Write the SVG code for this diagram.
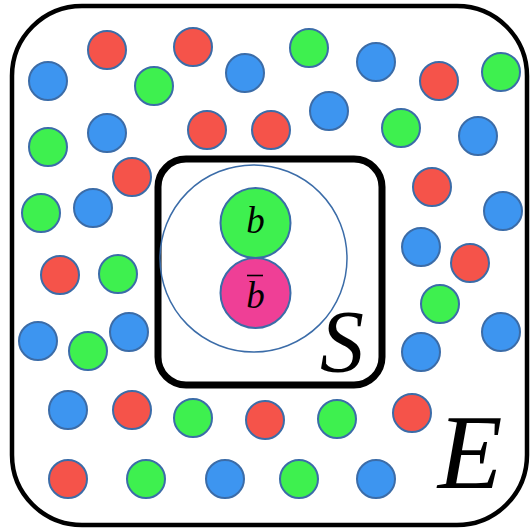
<svg xmlns="http://www.w3.org/2000/svg" width="532" height="530" viewBox="0 0 532 530">
<style>
.p{stroke:#3b6ca8;stroke-width:2}
.r{fill:#f5534a}
.g{fill:#3ef04f}
.b{fill:#3d95f0}
.lbl{font-family:"Liberation Serif","Times New Roman",serif;font-style:italic;fill:#000;text-anchor:middle}
</style>
<rect width="532" height="530" fill="#fff"/>
<g id="environment">
<rect x="12" y="6" width="515" height="519" rx="70" ry="70" fill="none" stroke="#000" stroke-width="4.5"/>
<text class="lbl" x="470" y="488" font-size="106">E</text>
</g>
<g id="particles">
<circle class="p b" cx="48" cy="81" r="19"/>
<circle class="p r" cx="107" cy="50" r="19"/>
<circle class="p r" cx="193" cy="47" r="19"/>
<circle class="p g" cx="154" cy="86" r="19"/>
<circle class="p b" cx="245" cy="73" r="19"/>
<circle class="p g" cx="309" cy="48" r="19"/>
<circle class="p b" cx="376" cy="62" r="19"/>
<circle class="p r" cx="439" cy="81" r="19"/>
<circle class="p g" cx="501" cy="72" r="19"/>
<circle class="p g" cx="48" cy="147" r="19"/>
<circle class="p b" cx="107" cy="133" r="19"/>
<circle class="p r" cx="207" cy="130" r="19"/>
<circle class="p r" cx="271" cy="130" r="19"/>
<circle class="p b" cx="329" cy="111" r="19"/>
<circle class="p g" cx="401" cy="128" r="19"/>
<circle class="p b" cx="478" cy="136" r="19"/>
<circle class="p r" cx="132" cy="177" r="19"/>
<circle class="p r" cx="432" cy="187" r="19"/>
<circle class="p g" cx="41" cy="213" r="19"/>
<circle class="p b" cx="93" cy="208" r="19"/>
<circle class="p b" cx="503" cy="211" r="19"/>
<circle class="p r" cx="60" cy="275" r="19"/>
<circle class="p g" cx="118" cy="274" r="19"/>
<circle class="p b" cx="421" cy="247" r="19"/>
<circle class="p r" cx="470" cy="263" r="19"/>
<circle class="p b" cx="38" cy="341" r="19"/>
<circle class="p g" cx="88" cy="351" r="19"/>
<circle class="p b" cx="129" cy="332" r="19"/>
<circle class="p g" cx="440" cy="304" r="19"/>
<circle class="p b" cx="501" cy="332" r="19"/>
<circle class="p b" cx="421" cy="352" r="19"/>
<circle class="p b" cx="68" cy="410" r="19"/>
<circle class="p r" cx="132" cy="410" r="19"/>
<circle class="p g" cx="193" cy="418" r="19"/>
<circle class="p r" cx="265" cy="420" r="19"/>
<circle class="p g" cx="337" cy="419" r="19"/>
<circle class="p r" cx="412" cy="413" r="19"/>
<circle class="p r" cx="68" cy="479" r="19"/>
<circle class="p g" cx="146" cy="479" r="19"/>
<circle class="p b" cx="225" cy="479" r="19"/>
<circle class="p g" cx="299" cy="479" r="19"/>
<circle class="p b" cx="376" cy="479" r="19"/>
</g>
<g id="system">
<rect x="158" y="159" width="224" height="226" rx="28" ry="28" fill="none" stroke="#000" stroke-width="7"/>
<circle cx="253.5" cy="258.5" r="93.5" fill="none" stroke="#3b6ca8" stroke-width="1.5"/>
<text class="lbl" x="342" y="371" font-size="88">S</text>
</g>
<g id="b-quark">
<circle class="p g" cx="255.5" cy="223" r="35"/>
<text class="lbl" x="255.5" y="233" font-size="37">b</text>
</g>
<g id="b-antiquark">
<circle cx="255.5" cy="293" r="35" fill="#ef3f96" stroke="#3b6ca8" stroke-width="2"/>
<line x1="247" y1="275.5" x2="263" y2="275.5" stroke="#000" stroke-width="1.6"/>
<text class="lbl" x="255.5" y="308" font-size="37">b</text>
</g>
</svg>
